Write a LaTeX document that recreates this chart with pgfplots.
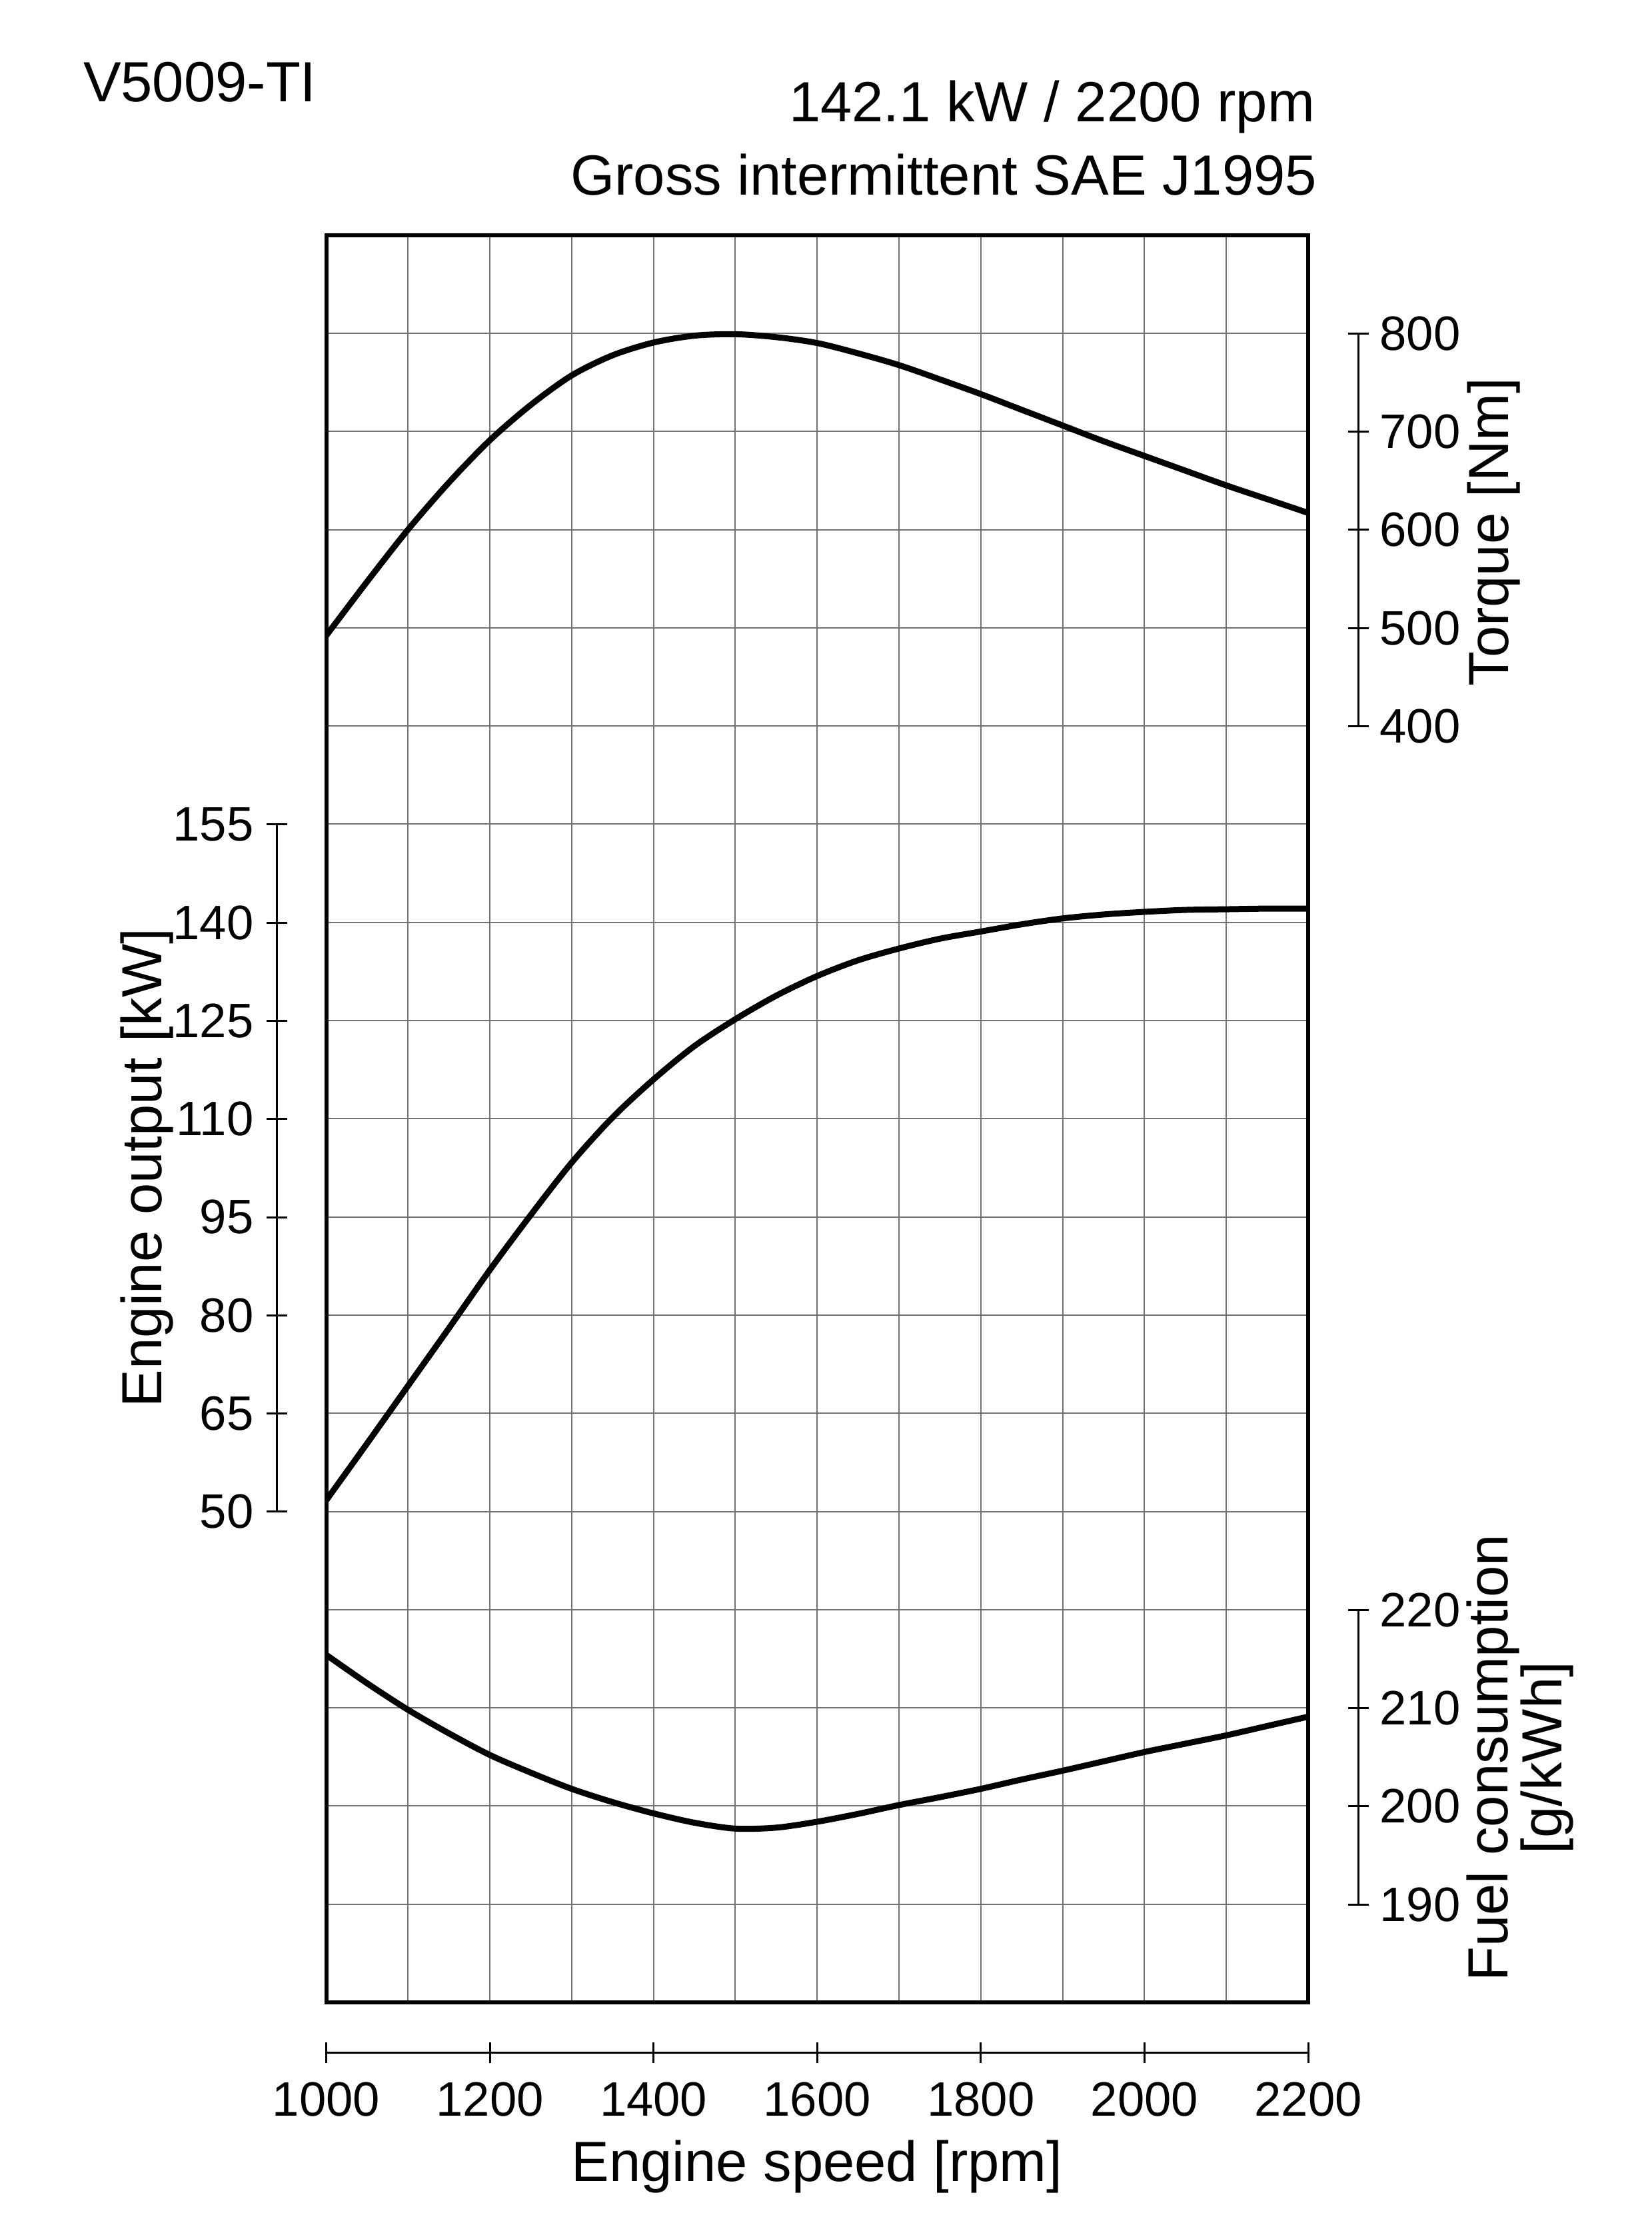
\documentclass[border=0pt]{standalone}
\usepackage{fontspec}
\setmainfont{Liberation Sans}
\usepackage{pgfplots}
\pgfplotsset{compat=1.18}
\usepackage{pgfplotstable}

\pgfplotstableread{
rpm T P F
1000 492 51.7 215.4
1050 547 60.4 212.5
1100 600 69.2 209.8
1150 648 78.0 207.4
1200 691 86.9 205.2
1250 727 95.3 203.4
1300 757 103.3 201.75
1350 777.5 110.2 200.4
1400 790.5 116.0 199.25
1450 797.5 121.1 198.3
1500 799 125.2 197.7
1550 796 128.8 197.8
1600 790 131.8 198.4
1650 779.5 134.2 199.2
1700 767.5 136.0 200.1
1750 753 137.5 200.9
1800 738 138.6 201.75
1850 722 139.7 202.7
1900 706 140.6 203.6
1950 690 141.2 204.55
2000 675 141.6 205.5
2050 660 141.9 206.35
2100 645 142.0 207.2
2150 631 142.1 208.15
2200 617 142.1 209.1
}\enginedata

\begin{document}
\begin{tikzpicture}
\useasboundingbox (0,0) rectangle (495.6pt,-671.2pt);
\pgfplotsset{
  sideaxis/.style={
    scale only axis,
    /pgf/number format/assume math mode=true,
    /pgf/number format/1000 sep={},
    tick label style={font=\fontsize{14.5}{16}\selectfont, inner sep=0pt},
    major tick length=6.2pt,
    tick style={line width=0.6pt, black},
    tick align=inside,
  },
  noarrows/.style={
    axis line style={line width=0.6pt, -},
    every outer x axis line/.append style={-},
    every outer y axis line/.append style={-},
    every inner x axis line/.append style={-},
    every inner y axis line/.append style={-},
    x axis line style={-},
    y axis line style={-},
  }
}
% main plotting area
\begin{axis}[
  at={(97.9pt,-600.8pt)}, anchor=south west,
  scale only axis, width=294.7pt, height=530.28pt,
  xmin=1000, xmax=2200, ymin=0, ymax=18,
  xtick={1000,1100,...,2200}, ytick={0,1,...,18},
  xticklabels={}, yticklabels={},
  major tick length=0pt,
  grid=major, grid style={line width=0.4pt, black!55},
  axis line style={line width=1.2pt},
]
\addplot[line width=1.8pt, smooth, black] table[x=rpm, y expr={13+(\thisrow{T}-400)/100}] {\enginedata};
\addplot[line width=1.8pt, smooth, black] table[x=rpm, y expr={5+(\thisrow{P}-50)/15}] {\enginedata};
\addplot[line width=1.8pt, smooth, black] table[x=rpm, y expr={1+(\thisrow{F}-190)/10}] {\enginedata};
\end{axis}

% engine output axis (left)
\begin{axis}[sideaxis,
  at={(83pt,-453.58pt)}, anchor=south west,
  width=10pt, height=206.22pt,
  xmin=0, xmax=1, ymin=50, ymax=155,
  ytick={50,65,...,155},
  axis y line=left, axis x line=none,
  noarrows,
  yticklabel style={anchor=east, xshift=-3.6pt},
]
\end{axis}

% torque axis (right, top)
\begin{axis}[sideaxis,
  at={(407.6pt,-217.9pt)}, anchor=south east,
  width=10pt, height=117.84pt,
  xmin=0, xmax=1, ymin=400, ymax=800,
  ytick={400,500,...,800},
  axis y line=right, axis x line=none,
  noarrows,
  yticklabel style={anchor=west, xshift=3.2pt},
]
\end{axis}

% fuel axis (right, bottom)
\begin{axis}[sideaxis,
  at={(407.6pt,-571.42pt)}, anchor=south east,
  width=10pt, height=88.38pt,
  xmin=0, xmax=1, ymin=190, ymax=220,
  ytick={190,200,210,220},
  axis y line=right, axis x line=none,
  noarrows,
  yticklabel style={anchor=west, xshift=3.2pt},
]
\end{axis}

% engine speed axis (bottom)
\begin{axis}[sideaxis,
  at={(97.9pt,-615.8pt)}, anchor=south west,
  width=294.7pt, height=10pt,
  xmin=1000, xmax=2200, ymin=0, ymax=1,
  xtick={1000,1200,...,2200}, scaled x ticks=false,
  axis x line=bottom, axis y line=none,
  noarrows,
  xticklabel style={anchor=north, yshift=-5.6pt},
]
\end{axis}

% titles and axis labels
\begin{scope}[every node/.style={inner sep=0pt, font=\fontsize{17}{20}\selectfont}]
\node[anchor=base west] at (24.8pt,-30.6pt) {V5009-TI};
\node[anchor=base east] at (394.8pt,-36.6pt) {142.1 kW / 2200 rpm};
\node[anchor=base east] at (395.4pt,-58.6pt) {Gross intermittent SAE J1995};
\node[rotate=90, anchor=base] at (48.4pt,-350.4pt) {Engine output [kW]};
\node[rotate=90, anchor=base] at (452.6pt,-159.6pt) {Torque [Nm]};
\node[rotate=90, anchor=base] at (452.4pt,-527.4pt) {Fuel consumption};
\node[rotate=90, anchor=base] at (468.6pt,-527.4pt) {[g/kWh]};
\node[anchor=base] at (245.2pt,-654.4pt) {Engine speed [rpm]};
\end{scope}
\end{tikzpicture}
\end{document}
